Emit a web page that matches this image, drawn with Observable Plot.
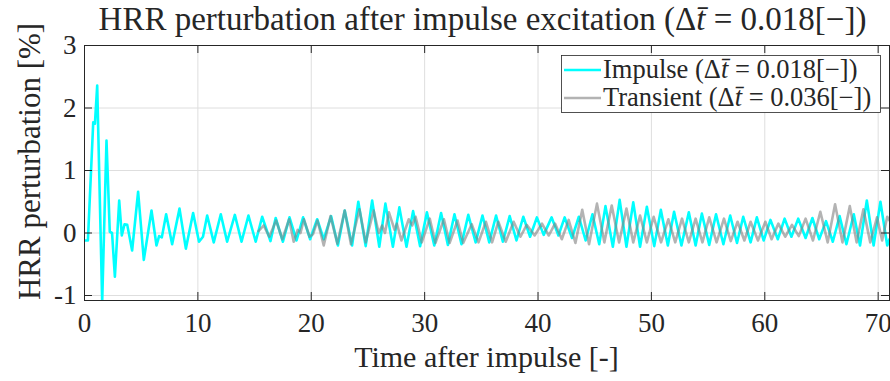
<!DOCTYPE html>
<html>
<head>
<meta charset="utf-8">
<script src="https://cdn.jsdelivr.net/npm/d3@7"></script>
<script src="https://cdn.jsdelivr.net/npm/@observablehq/plot@0.6"></script>
<style>
  html, body { margin: 0; padding: 0; background: #fff; }
  #chart { width: 890px; height: 381px; }
</style>
</head>
<body>
<div id="chart"></div>
<script>
// ---- data ----
const impulseT = [0.0,0.3,0.77,0.92,1.12,1.56,1.94,2.23,2.43,2.68,3.06,3.29,3.53,3.77,4.2,4.73,5.23,5.91,6.35,6.58,6.82,7.2,7.73,8.38,8.94,9.58,10.1,10.45,10.82,11.4,12.02,12.58,13.26,13.85,14.46,15.1,15.67,16.4,16.86,17.5,18.08,18.7,19.28,19.9,20.52,21.1,21.75,22.35,22.95,23.6,24.15,24.8,25.37,26.0,26.54,27.2,27.77,28.4,28.98,29.6,30.2,30.85,31.45,32.05,32.63,33.25,33.85,34.5,35.1,35.7,36.3,36.9,37.5,38.1,38.7,39.3,39.9,40.5,41.2,41.8,42.35,43.0,43.6,44.2,44.8,45.4,45.95,46.6,47.2,47.8,48.4,49.0,49.6,50.25,50.83,51.45,52.0,52.65,53.3,53.9,54.45,55.1,55.7,56.35,56.95,57.55,58.1,58.75,59.3,59.9,60.5,61.15,61.75,62.35,62.95,63.6,64.2,64.8,65.4,66.0,66.6,67.2,67.85,68.4,69.0,69.6,70.2,70.8,71.0];
const impulseV = [-0.12,-0.12,1.77,1.75,2.36,-1.1,1.48,0.02,0.0,-0.70,0.52,-0.04,0.14,0.13,-0.28,0.66,-0.43,0.36,-0.20,-0.05,-0.07,0.30,-0.18,0.39,-0.25,0.32,-0.14,-0.06,0.28,-0.15,0.30,-0.14,0.29,-0.14,0.28,-0.14,0.26,-0.13,0.24,-0.14,0.25,-0.12,0.25,-0.10,0.22,-0.10,0.27,-0.20,0.36,-0.20,0.50,-0.21,0.52,-0.22,0.47,-0.22,0.41,-0.22,0.35,-0.21,0.33,-0.20,0.32,-0.19,0.30,-0.18,0.29,-0.15,0.28,-0.15,0.28,-0.14,0.27,-0.12,0.26,-0.06,0.25,-0.03,0.25,-0.04,0.25,-0.08,0.26,-0.12,0.30,-0.18,0.43,-0.22,0.53,-0.22,0.49,-0.22,0.42,-0.21,0.37,-0.20,0.34,-0.20,0.33,-0.20,0.31,-0.19,0.30,-0.18,0.28,-0.16,0.26,-0.15,0.25,-0.12,0.21,-0.10,0.23,-0.06,0.23,-0.08,0.24,-0.10,0.19,-0.14,0.27,-0.18,0.30,-0.20,0.52,-0.20,0.50,-0.20,-0.10];

const transientT = [15.35,15.8,16.3,16.9,17.45,18.05,18.45,18.8,19.05,19.35,19.85,20.15,20.55,21.1,21.7,22.3,22.95,23.5,24.25,24.8,25.5,25.95,26.25,26.5,26.85,27.35,27.55,27.95,28.6,28.9,29.2,29.75,30.45,30.95,31.7,32.2,32.9,33.4,34.15,34.75,35.4,35.95,36.5,37.15,37.85,38.45,39.0,39.7,40.35,40.95,41.5,42.1,42.7,43.3,43.9,44.5,45.2,45.85,46.5,47.15,47.8,48.4,49.0,49.6,50.2,50.85,51.5,52.1,52.7,53.3,53.9,54.5,55.1,55.75,56.4,57.0,57.6,58.2,58.75,59.4,60.05,60.6,61.2,61.8,62.4,63.0,63.6,64.25,64.9,65.55,66.2,66.85,67.5,68.1,68.7,69.3,69.9,70.35,70.8,71.0];
const transientV = [0.03,0.12,-0.06,0.20,-0.10,0.22,-0.14,0.05,0.0,0.22,-0.06,-0.02,0.20,-0.20,0.27,-0.17,0.36,-0.18,0.38,-0.15,0.36,0.0,0.12,0.0,0.33,0.05,0.15,-0.12,0.22,0.12,0.26,-0.15,0.23,-0.16,0.22,-0.16,0.20,-0.16,0.14,-0.15,0.18,-0.15,0.18,-0.14,0.18,-0.06,0.13,-0.04,0.15,-0.04,0.15,-0.10,0.21,-0.16,0.37,-0.18,0.47,-0.15,0.44,-0.15,0.39,-0.15,0.28,-0.15,0.26,-0.15,0.22,-0.15,0.23,-0.15,0.23,-0.15,0.25,-0.15,0.23,-0.13,0.18,-0.12,0.18,-0.12,0.18,-0.10,0.15,-0.06,0.13,-0.05,0.23,-0.12,0.34,-0.15,0.46,-0.15,0.43,-0.15,0.38,-0.15,0.25,-0.12,0.26,0.20];

const xTicks = [0,10,20,30,40,50,60,70];
const yTicks = [-1,0,1,2,3];
const seriesNames = ["Impulse", "Transient"];
const seriesDt = ["0.018", "0.036"];

// ---- build tables ----
const impulse = impulseT.map((t,i) => ({t, v: impulseV[i]}));
const transient = transientT.map((t,i) => ({t, v: transientV[i]}));

const W = 890, H = 381;
const mL = 84, mR = 1, mT = 45, mB = 81;
const xDom = [0, 71], yDom = [-1.08, 3];
const pxX = (xDom[1]-xDom[0])/(W-mL-mR);
const pxY = (yDom[1]-yDom[0])/(H-mT-mB);
const tl = 8; // inward tick length in px
const ink = "#262626";
const serif = "'Liberation Serif', 'DejaVu Serif', serif";

const chart = Plot.plot({
  width: W, height: H,
  marginLeft: mL, marginRight: mR, marginTop: mT, marginBottom: mB,
  x: {domain: xDom},
  y: {domain: yDom},
  style: {fontFamily: serif, fontSize: "26px", color: ink, background: "#fff", overflow: "visible"},
  marks: [
    Plot.gridX(xTicks, {stroke: "#dedede", strokeOpacity: 1, strokeWidth: 1}),
    Plot.gridY(yTicks, {stroke: "#dedede", strokeOpacity: 1, strokeWidth: 1}),
    Plot.line(impulse, {x: "t", y: "v", stroke: "#00ffff", strokeWidth: 2.6, clip: true}),
    Plot.line(transient, {x: "t", y: "v", stroke: "#808080", strokeOpacity: 0.6, strokeWidth: 2.6, clip: true}),
    Plot.frame({stroke: ink, strokeWidth: 1}),
    // MATLAB-style inward ticks
    Plot.ruleX(xTicks, {x: d => d, y1: yDom[0], y2: yDom[0] + tl*pxY, stroke: ink}),
    Plot.ruleX(xTicks, {x: d => d, y1: yDom[1], y2: yDom[1] - tl*pxY, stroke: ink}),
    Plot.ruleY(yTicks, {y: d => d, x1: xDom[0], x2: xDom[0] + tl*pxX, stroke: ink}),
    Plot.ruleY(yTicks, {y: d => d, x1: xDom[1], x2: xDom[1] - tl*pxX, stroke: ink}),
    Plot.axisX(xTicks, {tickSize: 0, tickPadding: 12, label: null, fontSize: 27, fill: ink}),
    Plot.axisY(yTicks, {tickSize: 0, tickPadding: 8, label: null, fontSize: 27, fill: ink,
      tickFormat: d => d < 0 ? "-" + Math.abs(d) : String(d)})
  ]
});
document.getElementById("chart").appendChild(chart);

// ---- titles, axis labels and legend as real text ----
const svg = d3.select(chart);
function dtText(sel, prefix, val) {
  sel.append("tspan").text(prefix + "(Δ");
  sel.append("tspan").attr("font-style", "italic").text("t\u0304");
  sel.append("tspan").text(" = " + val + "[−])");
}
const title = svg.append("text")
  .attr("x", (mL + W - mR)/2 - 4).attr("y", 30)
  .attr("text-anchor", "middle")
  .attr("font-family", serif).attr("font-size", 33).attr("fill", ink);
dtText(title, "HRR perturbation after impulse excitation ", "0.018");

svg.append("text")
  .attr("x", (mL + W - mR)/2).attr("y", 367)
  .attr("text-anchor", "middle")
  .attr("font-family", serif).attr("font-size", 30).attr("fill", ink)
  .text("Time after impulse [-]");

svg.append("text")
  .attr("transform", `translate(40, ${(mT + H - mB)/2 - 11}) rotate(-90)`)
  .attr("text-anchor", "middle")
  .attr("font-family", serif).attr("font-size", 31).attr("fill", ink)
  .text("HRR perturbation [%]");

// legend
const lg = svg.append("g");
lg.append("rect").attr("x", 561.5).attr("y", 55.5).attr("width", 319).attr("height", 57)
  .attr("fill", "#fff").attr("stroke", ink).attr("stroke-width", 0.8);
const legendColors = ["#00ffff", "#808080"];
const legendOpacity = [1, 0.6];
seriesNames.forEach((name, i) => {
  const cy = 70 + i*28;
  lg.append("line").attr("x1", 564).attr("x2", 601).attr("y1", cy).attr("y2", cy)
    .attr("stroke", legendColors[i]).attr("stroke-opacity", legendOpacity[i]).attr("stroke-width", 2.6);
  const t = lg.append("text").attr("x", 603).attr("y", cy + 8)
    .attr("text-anchor", "start")
    .attr("font-family", serif).attr("font-size", 26.5).attr("fill", ink);
  dtText(t, name + " ", seriesDt[i]);
});
</script>
</body>
</html>
